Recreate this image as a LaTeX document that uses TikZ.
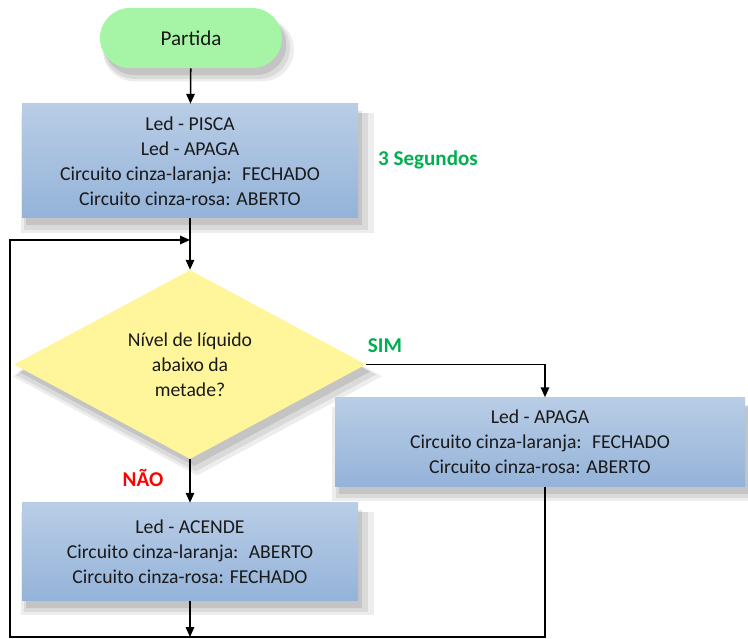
\documentclass[tikz,border=0pt]{standalone}
\usepackage{fontspec}
\setmainfont{Carlito}
\usetikzlibrary{arrows.meta, positioning, calc, shapes.geometric, shadows}
\definecolor{inkgreen}{HTML}{A6F5A6}
\definecolor{boxtop}{HTML}{B9CDE6}
\definecolor{boxbot}{HTML}{94B3D9}
\definecolor{askyellow}{HTML}{FFF69C}
\definecolor{simgreen}{HTML}{00B050}
\definecolor{naored}{HTML}{FF0000}
\definecolor{inktext}{HTML}{1A1A1A}
\tikzset{
  softshadow/.style={
    general shadow={fill=black, opacity=0.07, shadow xshift=5pt, shadow yshift=-8pt, shadow scale=1.05},
    general shadow={fill=black, opacity=0.08, shadow xshift=4pt, shadow yshift=-7pt, shadow scale=1.025},
    general shadow={fill=black, opacity=0.10, shadow xshift=3pt, shadow yshift=-5pt}},
  flow/.style={-{Triangle[length=7pt, width=6pt]}, line width=1.1pt, black},
  tag/.style={font=\fontsize{15}{18}\selectfont\bfseries}
}
\newcommand{\ledbox}[5]{%
  \node[top color=boxtop, bottom color=boxbot, softshadow,
        minimum width=#3, minimum height=#4, align=center,
        text=inktext, inner sep=2pt] (#1) at (#2) {#5};}

\begin{document}
\begin{tikzpicture}[font=\fontsize{14}{17.7}\selectfont]
  \useasboundingbox (0,0) rectangle (18.7,-15.975);
  \node[fill=inkgreen, rounded corners=0.75cm, softshadow,
        minimum width=4.55cm, minimum height=1.5cm,
        font=\fontsize{15}{18}\selectfont, text=inktext] (start) at (4.775,-0.95) {Partida};
  \ledbox{blink}{4.75,-4.025}{8.4cm}{2.85cm}{Led - PISCA\\Led - APAGA\\
    Circuito cinza-laranja:~ FECHADO\\Circuito cinza-rosa: ABERTO}
  \node[tag, text=simgreen] (secs) at (10.7,-4.0) {3 Segundos};
  \node[diamond, fill=askyellow, softshadow, shape aspect=1.87, inner sep=0pt,
        minimum width=8.8cm, minimum height=4.725cm, align=center, text=inktext]
        (ask) at (4.75,-9.1125) {Nível de líquido\\abaixo da\\metade?};
  \node[tag, text=simgreen] (sim) at (9.625,-8.65) {SIM};
  \node[tag, text=naored] (nao) at (3.575,-11.95) {NÃO};
  \ledbox{off}{13.5,-11.05}{10.25cm}{2.225cm}{Led - APAGA\\
    Circuito cinza-laranja:~ FECHADO\\Circuito cinza-rosa: ABERTO}
  \ledbox{on}{4.75,-13.8}{8.4cm}{2.45cm}{Led - ACENDE\\
    Circuito cinza-laranja:~ ABERTO\\Circuito cinza-rosa: FECHADO}
  % loop points
  \coordinate (simturn) at (13.625,-9.1125);
  \coordinate (floor) at (4.75,-15.925);
  \coordinate (corner) at (0.25,-15.925);
  \coordinate (join) at (4.75,-6.0);
  \draw[flow] (start) -- (blink);
  \draw[flow] (blink) -- (ask);
  \draw[flow] (ask.east) -- (simturn) -- (simturn |- off.north);
  \draw[flow] (ask.south) -- (on);
  \draw[flow] (on) -- (floor);
  \draw[flow] (simturn |- off.south) |- (corner) |- (join);
\end{tikzpicture}
\end{document}
